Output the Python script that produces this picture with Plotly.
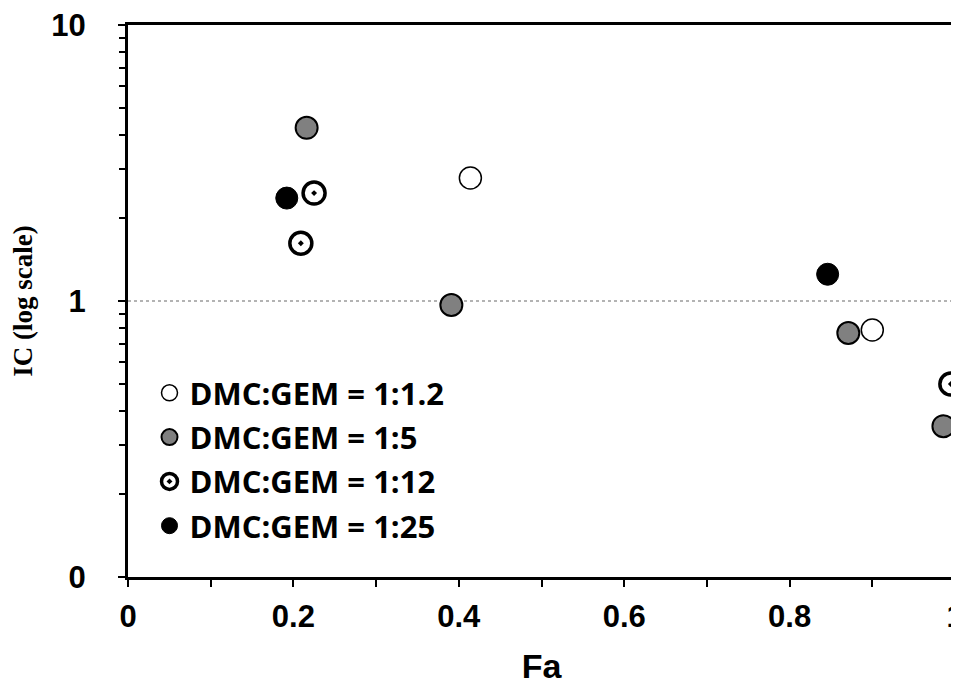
import plotly.graph_objects as go

# ---- data ----
series_names = ["DMC:GEM = 1:1.2", "DMC:GEM = 1:5", "DMC:GEM = 1:12", "DMC:GEM = 1:25"]
fa_1_1_2 = [0.414, 0.900]
ic_1_1_2 = [2.79, 0.785]
fa_1_5 = [0.216, 0.391, 0.871, 0.986]
ic_1_5 = [4.24, 0.967, 0.766, 0.352]
fa_1_12 = [0.225, 0.209, 0.995]
ic_1_12 = [2.46, 1.62, 0.50]
fa_1_25 = [0.192, 0.846]
ic_1_25 = [2.36, 1.25]
reference_ic = 1
y_tickvals = [0.1, 1, 10]
y_ticktext = ["0", "1", "10"]
x_tickvals = [0, 0.2, 0.4, 0.6, 0.8, 1]
x_ticktext = ["0", "0.2", "0.4", "0.6", "0.8", "1"]

fig = go.Figure()
styles = [
    dict(symbol="circle", color="white", line=dict(color="black", width=1.5)),
    dict(symbol="circle", color="#808080", line=dict(color="black", width=2)),
    dict(symbol="circle-open-dot", color="black", line=dict(color="black", width=3.5)),
    dict(symbol="circle", color="black", line=dict(color="black", width=1)),
]
xs = [fa_1_1_2, fa_1_5, fa_1_12, fa_1_25]
ys = [ic_1_1_2, ic_1_5, ic_1_12, ic_1_25]
for i, (name, x, y, st) in enumerate(zip(series_names, xs, ys, styles)):
    fig.add_trace(go.Scatter(
        x=x, y=y, mode="markers", name=name, legendgroup=f"g{i}",
        marker=dict(size=22, symbol=st["symbol"], color=st["color"], line=st["line"]),
    ))

fig.add_hline(y=reference_ic, line=dict(color="#9a9a9a", width=1.5, dash="dot"), layer="below")

tick_font = dict(family="Liberation Sans", size=31, color="black", weight="bold")

# the page body adds an 8px offset, so the figure is 8px smaller and margins compensate
fig.update_layout(
    width=951, height=677,
    margin=dict(l=120, r=4, t=17, b=108),
    plot_bgcolor="white", paper_bgcolor="white",
    showlegend=True,
    legend=dict(
        x=0.026, y=0.382, xanchor="left", yanchor="top",
        font=dict(family="Open Sans", size=31, color="black", weight="bold"),
        bgcolor="rgba(0,0,0,0)", tracegroupgap=1, itemsizing="trace",
        traceorder="grouped",
    ),
    xaxis=dict(
        range=[0, 1], tickvals=x_tickvals, ticktext=x_ticktext,
        showline=True, linecolor="black", linewidth=3, mirror=True,
        ticks="outside", ticklen=7, tickwidth=2, tickcolor="black",
        minor=dict(ticks="outside", dtick=0.1, ticklen=7, tickwidth=2, tickcolor="black"),
        showgrid=False, zeroline=False, automargin=False,
        tickfont=tick_font, ticklabeloverflow="allow",
        ticklabelstandoff=3,
        title=dict(text="Fa", font=dict(family="Liberation Sans", size=34, color="black", weight="bold"), standoff=25),
    ),
    yaxis=dict(
        type="log", range=[-1, 1], tickvals=y_tickvals, ticktext=y_ticktext,
        showline=True, linecolor="black", linewidth=3, mirror=True,
        ticks="outside", ticklen=7, tickwidth=2, tickcolor="black",
        minor=dict(ticks="outside", tickvals=[0.2, 0.3, 0.4, 0.5, 0.6, 0.7, 0.8, 0.9, 2, 3, 4, 5, 6, 7, 8, 9],
                   ticklen=6, tickwidth=2, tickcolor="black"),
        showgrid=False, zeroline=False, automargin=False,
        tickfont=tick_font, ticklabeloverflow="allow",
        ticklabelstandoff=26,
        title=dict(text="IC (log scale)", font=dict(family="Liberation Serif", size=27, color="black", weight="bold"), standoff=34),
    ),
)

fig.write_html("out.html")
